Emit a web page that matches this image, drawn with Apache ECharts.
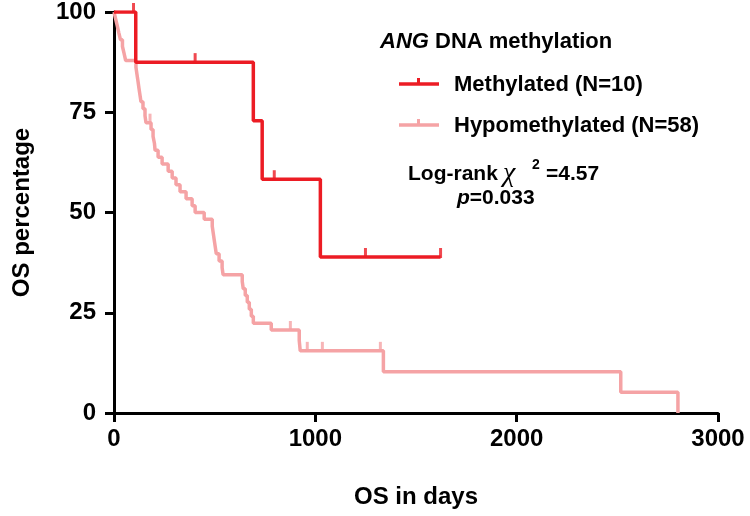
<!DOCTYPE html>
<html>
<head>
<meta charset="utf-8">
<script src="https://cdn.jsdelivr.net/npm/echarts@6/dist/echarts.min.js"></script>
<style>html,body{margin:0;padding:0;background:#fff}#c{width:750px;height:516px}</style>
</head>
<body>
<div id="c"></div>
<script>
// ---- data ----
const xTicks = [0, 1000, 2000, 3000];
const yTicks = [0, 25, 50, 75, 100];

const methDays = [0, 108, 692, 736, 1025, 1622];
const methSurv = [100, 87.5, 72.9, 58.3, 38.9, 38.9];
const methCensorDays = [97, 403, 796, 1249, 1622];
const methCensorSurv = [100, 87.5, 58.3, 38.9, 38.9];

const hypoDays = [0,8,16,24,32,42,50,58,109,114,119,124,129,134,144,154,159,184,194,201,204,219,239,269,289,308,328,358,388,403,448,488,493,498,503,508,522,537,542,637,642,652,662,672,682,692,781,920,925,1338,2517,2801];
const hypoSurv = [100,98.3,96.6,94.8,93.1,91.4,89.7,87.9,86.2,84.5,82.8,81.0,79.3,77.6,75.9,74.1,72.4,70.7,69.0,67.2,65.5,63.8,62.1,60.3,58.6,56.9,55.2,53.4,51.7,50.0,48.3,46.6,44.8,43.1,41.4,39.7,37.9,36.2,34.5,32.8,31.0,29.3,27.6,25.9,24.1,22.4,20.7,18.1,15.5,10.3,5.2,0];
const hypoCensorDays = [179, 876, 960, 1035, 1323];
const hypoCensorSurv = [72.4, 20.7, 15.5, 15.5, 15.5];

const seriesNames = ['Methylated (N=10)', 'Hypomethylated (N=58)'];
const RED = '#ec1c24';
const PINK = '#f5a3a5';
const FONT = '"Liberation Sans", Arial, sans-serif';

const zip = (a, b) => a.map((v, i) => [v, b[i]]);

const chart = echarts.init(document.getElementById('c'), null, {renderer: 'canvas'});
const axisCommon = {
  axisLine: {show: true, onZero: false, lineStyle: {color: '#000', width: 3}},
  axisTick: {show: true, length: 9, lineStyle: {color: '#000', width: 3}},
  splitLine: {show: false},
  axisLabel: {color: '#000', fontFamily: FONT, fontWeight: 'bold', fontSize: 24, formatter: (v) => String(v)},
  nameTextStyle: {color: '#000', fontFamily: FONT, fontWeight: 'bold', fontSize: 24}
};
const censorStyle = (color) => ({
  type: 'scatter', symbol: 'rect', symbolSize: [3, 10], symbolOffset: [0, -4],
  itemStyle: {color: color}, silent: true, z: 3
});

chart.setOption({
  animation: false,
  grid: {left: 114, right: 32, top: 12, bottom: 103, containLabel: false},
  xAxis: Object.assign({}, axisCommon, {
    type: 'value', min: xTicks[0], max: xTicks[xTicks.length - 1], interval: 1000,
    name: 'OS in days', nameLocation: 'middle', nameGap: 72,
    axisLabel: Object.assign({}, axisCommon.axisLabel, {margin: 14})
  }),
  yAxis: Object.assign({}, axisCommon, {
    type: 'value', min: yTicks[0], max: yTicks[yTicks.length - 1], interval: 25,
    name: 'OS percentage', nameLocation: 'middle', nameGap: 80,
    axisLabel: Object.assign({}, axisCommon.axisLabel, {margin: 18})
  }),
  series: [
    {name: seriesNames[1], type: 'line', step: 'end', showSymbol: false, data: zip(hypoDays, hypoSurv),
     lineStyle: {color: PINK, width: 3.5}, itemStyle: {color: PINK}, z: 2},
    Object.assign(censorStyle(PINK), {data: zip(hypoCensorDays, hypoCensorSurv)}),
    {name: seriesNames[0], type: 'line', step: 'end', showSymbol: false, data: zip(methDays, methSurv),
     lineStyle: {color: RED, width: 3.5}, itemStyle: {color: RED}, z: 4},
    Object.assign(censorStyle(RED), {data: zip(methCensorDays, methCensorSurv), z: 5})
  ],
  graphic: [
    {type: 'text', left: 380, top: 31, style: {text: '{i|ANG} DNA methylation', fill: '#000',
      font: 'bold 22px ' + FONT, rich: {i: {fontStyle: 'italic', fontWeight: 'bold', fontSize: 22, fontFamily: FONT}}}},
    {type: 'line', shape: {x1: 399, y1: 84, x2: 439, y2: 84}, style: {stroke: RED, lineWidth: 3.5}},
    {type: 'rect', shape: {x: 417, y: 78, width: 3, height: 6}, style: {fill: RED}},
    {type: 'text', left: 454, top: 74, style: {text: seriesNames[0], fill: '#000', font: 'bold 22px ' + FONT}},
    {type: 'line', shape: {x1: 399, y1: 125, x2: 439, y2: 125}, style: {stroke: PINK, lineWidth: 3.5}},
    {type: 'rect', shape: {x: 417, y: 119, width: 3, height: 6}, style: {fill: PINK}},
    {type: 'text', left: 454, top: 115, style: {text: seriesNames[1], fill: '#000', font: 'bold 22px ' + FONT}},
    {type: 'text', left: 408, top: 164, style: {text: 'Log-rank', fill: '#000', font: 'bold 21px ' + FONT}},
    {type: 'text', left: 503, top: 160, style: {text: 'χ', fill: '#000', font: 'italic 28px "Liberation Serif", serif'}},
    {type: 'text', left: 532, top: 158, style: {text: '2', fill: '#000', font: 'bold 14px ' + FONT}},
    {type: 'text', left: 546, top: 164, style: {text: '=4.57', fill: '#000', font: 'bold 21px ' + FONT}},
    {type: 'text', left: 457, top: 188, style: {text: '{i|p}=0.033', fill: '#000', font: 'bold 21px ' + FONT,
      rich: {i: {fontStyle: 'italic', fontWeight: 'bold', fontSize: 21, fontFamily: FONT}}}}
  ]
});
</script>
</body>
</html>
